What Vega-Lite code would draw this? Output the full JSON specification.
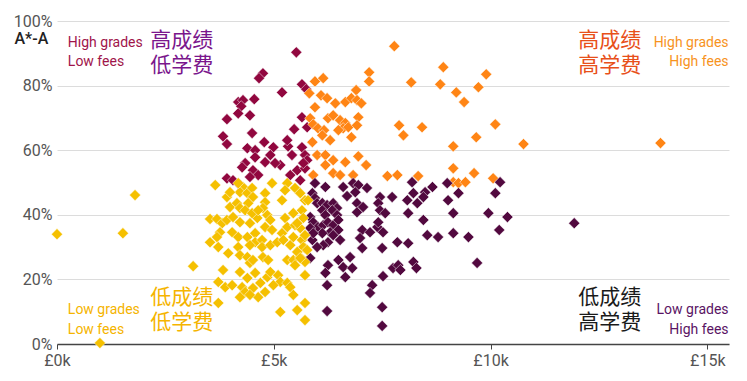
{
  "$schema": "https://vega.github.io/schema/vega-lite/v6.json",
  "width": 672,
  "height": 323,
  "autosize": {"type": "none"},
  "padding": {"left": 57, "top": 21, "right": 18, "bottom": 37},
  "background": "white",
  "config": {"view": {"stroke": null}},
  "datasets": {
    "pts": [
      {"f":5.52,"g":90.3,"grp":"HL"},{"f":4.75,"g":83.8,"grp":"HL"},{"f":4.66,"g":82.3,"grp":"HL"},{"f":5.19,"g":77.9,"grp":"HL"},{"f":5.65,"g":80.4,"grp":"HL"},{"f":5.75,"g":78.9,"grp":"HL"},{"f":4.18,"g":74.9,"grp":"HL"},{"f":4.29,"g":75.5,"grp":"HL"},{"f":4.25,"g":73.6,"grp":"HL"},{"f":4.55,"g":75.8,"grp":"HL"},{"f":4.18,"g":71.4,"grp":"HL"},{"f":4.45,"g":70.8,"grp":"HL"},{"f":3.92,"g":69.6,"grp":"HL"},{"f":3.83,"g":64.3,"grp":"HL"},{"f":3.92,"g":61.9,"grp":"HL"},{"f":4.50,"g":65.3,"grp":"HL"},{"f":4.78,"g":62.5,"grp":"HL"},{"f":4.99,"g":60.9,"grp":"HL"},{"f":5.47,"g":66.5,"grp":"HL"},{"f":5.65,"g":70.2,"grp":"HL"},{"f":5.33,"g":61.2,"grp":"HL"},{"f":5.65,"g":60.9,"grp":"HL"},{"f":4.39,"g":60.6,"grp":"HL"},{"f":4.57,"g":60.0,"grp":"HL"},{"f":4.92,"g":58.5,"grp":"HL"},{"f":5.77,"g":67.1,"grp":"HL"},{"f":5.42,"g":58.5,"grp":"HL"},{"f":5.72,"g":58.5,"grp":"HL"},{"f":5.77,"g":56.9,"grp":"HL"},{"f":4.34,"g":56.0,"grp":"HL"},{"f":4.52,"g":53.8,"grp":"HL"},{"f":4.64,"g":52.3,"grp":"HL"},{"f":4.45,"g":51.7,"grp":"HL"},{"f":3.92,"g":51.3,"grp":"HL"},{"f":4.22,"g":49.2,"grp":"HL"},{"f":5.15,"g":55.4,"grp":"HL"},{"f":5.38,"g":52.3,"grp":"HL"},{"f":5.54,"g":53.8,"grp":"HL"},{"f":5.61,"g":50.7,"grp":"HL"},{"f":4.80,"g":56.3,"grp":"HL"},{"f":4.06,"g":50.7,"grp":"HL"},{"f":5.31,"g":63.1,"grp":"HL"},{"f":5.72,"g":54.4,"grp":"HL"},{"f":5.03,"g":56.0,"grp":"HL"},{"f":4.27,"g":54.7,"grp":"HL"},{"f":4.57,"g":57.8,"grp":"HL"},{"f":5.68,"g":56.0,"grp":"HL"},
      {"f":7.78,"g":92.2,"grp":"HH"},{"f":7.20,"g":84.1,"grp":"HH"},{"f":7.20,"g":81.3,"grp":"HH"},{"f":8.91,"g":85.7,"grp":"HH"},{"f":9.90,"g":83.5,"grp":"HH"},{"f":8.17,"g":81.0,"grp":"HH"},{"f":8.84,"g":80.4,"grp":"HH"},{"f":9.72,"g":79.5,"grp":"HH"},{"f":9.21,"g":77.9,"grp":"HH"},{"f":9.39,"g":74.9,"grp":"HH"},{"f":5.95,"g":81.3,"grp":"HH"},{"f":6.14,"g":82.3,"grp":"HH"},{"f":6.90,"g":78.6,"grp":"HH"},{"f":5.82,"g":77.6,"grp":"HH"},{"f":6.09,"g":77.0,"grp":"HH"},{"f":6.23,"g":76.1,"grp":"HH"},{"f":5.95,"g":73.3,"grp":"HH"},{"f":6.42,"g":74.5,"grp":"HH"},{"f":6.65,"g":74.9,"grp":"HH"},{"f":6.79,"g":76.1,"grp":"HH"},{"f":6.92,"g":75.5,"grp":"HH"},{"f":7.02,"g":74.5,"grp":"HH"},{"f":5.84,"g":69.9,"grp":"HH"},{"f":5.91,"g":68.0,"grp":"HH"},{"f":6.25,"g":69.9,"grp":"HH"},{"f":6.37,"g":70.8,"grp":"HH"},{"f":6.53,"g":69.3,"grp":"HH"},{"f":6.65,"g":68.4,"grp":"HH"},{"f":6.60,"g":66.8,"grp":"HH"},{"f":6.72,"g":67.1,"grp":"HH"},{"f":6.95,"g":70.2,"grp":"HH"},{"f":6.92,"g":67.7,"grp":"HH"},{"f":6.02,"g":66.8,"grp":"HH"},{"f":6.16,"g":66.2,"grp":"HH"},{"f":6.12,"g":64.6,"grp":"HH"},{"f":6.30,"g":63.1,"grp":"HH"},{"f":6.79,"g":64.0,"grp":"HH"},{"f":5.89,"g":62.5,"grp":"HH"},{"f":7.89,"g":67.7,"grp":"HH"},{"f":7.99,"g":64.6,"grp":"HH"},{"f":8.42,"g":67.1,"grp":"HH"},{"f":10.11,"g":68.0,"grp":"HH"},{"f":9.67,"g":64.0,"grp":"HH"},{"f":9.14,"g":61.2,"grp":"HH"},{"f":10.76,"g":61.9,"grp":"HH"},{"f":13.92,"g":62.2,"grp":"HH"},{"f":6.00,"g":58.5,"grp":"HH"},{"f":6.19,"g":58.5,"grp":"HH"},{"f":6.37,"g":56.9,"grp":"HH"},{"f":6.19,"g":55.4,"grp":"HH"},{"f":6.65,"g":56.3,"grp":"HH"},{"f":6.95,"g":58.1,"grp":"HH"},{"f":7.13,"g":55.4,"grp":"HH"},{"f":5.91,"g":52.3,"grp":"HH"},{"f":6.37,"g":52.9,"grp":"HH"},{"f":6.53,"g":52.3,"grp":"HH"},{"f":6.83,"g":52.3,"grp":"HH"},{"f":7.62,"g":52.0,"grp":"HH"},{"f":7.85,"g":52.3,"grp":"HH"},{"f":8.33,"g":52.0,"grp":"HH"},{"f":9.14,"g":54.4,"grp":"HH"},{"f":9.14,"g":50.1,"grp":"HH"},{"f":9.26,"g":49.8,"grp":"HH"},{"f":9.42,"g":50.1,"grp":"HH"},{"f":9.62,"g":52.9,"grp":"HH"},{"f":10.06,"g":51.3,"grp":"HH"},{"f":6.49,"g":66.2,"grp":"HH"},
      {"f":5.95,"g":49.8,"grp":"LH"},{"f":6.19,"g":48.6,"grp":"LH"},{"f":6.60,"g":48.6,"grp":"LH"},{"f":6.83,"g":49.8,"grp":"LH"},{"f":6.95,"g":49.2,"grp":"LH"},{"f":6.88,"g":47.0,"grp":"LH"},{"f":5.89,"g":46.7,"grp":"LH"},{"f":5.95,"g":45.2,"grp":"LH"},{"f":6.00,"g":43.6,"grp":"LH"},{"f":6.12,"g":43.6,"grp":"LH"},{"f":6.23,"g":43.0,"grp":"LH"},{"f":6.37,"g":43.6,"grp":"LH"},{"f":6.46,"g":42.1,"grp":"LH"},{"f":6.35,"g":41.4,"grp":"LH"},{"f":6.12,"g":41.4,"grp":"LH"},{"f":6.19,"g":39.9,"grp":"LH"},{"f":6.46,"g":39.9,"grp":"LH"},{"f":5.84,"g":39.3,"grp":"LH"},{"f":5.91,"g":37.7,"grp":"LH"},{"f":6.02,"g":36.2,"grp":"LH"},{"f":5.84,"g":35.9,"grp":"LH"},{"f":6.14,"g":36.8,"grp":"LH"},{"f":6.25,"g":37.7,"grp":"LH"},{"f":6.37,"g":36.8,"grp":"LH"},{"f":6.49,"g":38.4,"grp":"LH"},{"f":6.49,"g":35.3,"grp":"LH"},{"f":6.30,"g":34.6,"grp":"LH"},{"f":6.12,"g":34.3,"grp":"LH"},{"f":6.37,"g":33.7,"grp":"LH"},{"f":6.53,"g":32.2,"grp":"LH"},{"f":6.25,"g":31.5,"grp":"LH"},{"f":6.14,"g":30.6,"grp":"LH"},{"f":6.00,"g":30.0,"grp":"LH"},{"f":5.89,"g":32.2,"grp":"LH"},{"f":5.91,"g":34.3,"grp":"LH"},{"f":6.92,"g":43.6,"grp":"LH"},{"f":6.92,"g":40.8,"grp":"LH"},{"f":7.06,"g":42.4,"grp":"LH"},{"f":7.45,"g":45.5,"grp":"LH"},{"f":7.41,"g":43.6,"grp":"LH"},{"f":7.45,"g":41.4,"grp":"LH"},{"f":7.57,"g":40.5,"grp":"LH"},{"f":7.73,"g":45.5,"grp":"LH"},{"f":8.19,"g":50.1,"grp":"LH"},{"f":8.08,"g":44.5,"grp":"LH"},{"f":8.22,"g":46.7,"grp":"LH"},{"f":8.31,"g":43.6,"grp":"LH"},{"f":8.10,"g":40.5,"grp":"LH"},{"f":8.49,"g":47.0,"grp":"LH"},{"f":8.66,"g":48.6,"grp":"LH"},{"f":8.45,"g":45.5,"grp":"LH"},{"f":9.00,"g":49.8,"grp":"LH"},{"f":9.02,"g":44.5,"grp":"LH"},{"f":9.26,"g":46.7,"grp":"LH"},{"f":9.14,"g":40.5,"grp":"LH"},{"f":9.95,"g":40.5,"grp":"LH"},{"f":10.39,"g":39.3,"grp":"LH"},{"f":10.11,"g":46.7,"grp":"LH"},{"f":10.22,"g":50.1,"grp":"LH"},{"f":10.20,"g":35.3,"grp":"LH"},{"f":8.45,"g":38.4,"grp":"LH"},{"f":7.04,"g":35.3,"grp":"LH"},{"f":6.99,"g":32.8,"grp":"LH"},{"f":7.22,"g":34.6,"grp":"LH"},{"f":7.39,"g":36.2,"grp":"LH"},{"f":7.52,"g":34.6,"grp":"LH"},{"f":7.41,"g":37.7,"grp":"LH"},{"f":7.04,"g":29.7,"grp":"LH"},{"f":7.50,"g":29.7,"grp":"LH"},{"f":7.85,"g":31.5,"grp":"LH"},{"f":8.10,"g":31.2,"grp":"LH"},{"f":8.54,"g":33.7,"grp":"LH"},{"f":8.79,"g":33.1,"grp":"LH"},{"f":9.14,"g":34.3,"grp":"LH"},{"f":9.49,"g":33.1,"grp":"LH"},{"f":9.69,"g":25.1,"grp":"LH"},{"f":6.76,"g":26.9,"grp":"LH"},{"f":6.60,"g":23.8,"grp":"LH"},{"f":6.81,"g":23.5,"grp":"LH"},{"f":6.65,"g":20.7,"grp":"LH"},{"f":6.49,"g":26.0,"grp":"LH"},{"f":6.25,"g":24.4,"grp":"LH"},{"f":6.19,"g":22.0,"grp":"LH"},{"f":7.75,"g":23.5,"grp":"LH"},{"f":7.87,"g":24.4,"grp":"LH"},{"f":7.92,"g":22.9,"grp":"LH"},{"f":8.22,"g":25.4,"grp":"LH"},{"f":8.29,"g":23.5,"grp":"LH"},{"f":7.52,"g":21.0,"grp":"LH"},{"f":7.27,"g":18.2,"grp":"LH"},{"f":7.22,"g":15.8,"grp":"LH"},{"f":6.23,"g":18.2,"grp":"LH"},{"f":7.50,"g":11.4,"grp":"LH"},{"f":6.23,"g":10.2,"grp":"LH"},{"f":7.50,"g":5.6,"grp":"LH"},{"f":11.93,"g":37.4,"grp":"LH"},{"f":6.69,"g":45.8,"grp":"LH"},{"f":7.15,"g":48.3,"grp":"LH"},{"f":5.84,"g":26.6,"grp":"LH"},
      {"f":0.00,"g":34.0,"grp":"LL"},{"f":0.99,"g":0.3,"grp":"LL"},{"f":1.52,"g":34.3,"grp":"LL"},{"f":1.80,"g":46.1,"grp":"LL"},{"f":3.14,"g":24.1,"grp":"LL"},{"f":4.96,"g":49.8,"grp":"LL"},{"f":3.65,"g":49.2,"grp":"LL"},{"f":3.92,"g":45.5,"grp":"LL"},{"f":4.29,"g":48.6,"grp":"LL"},{"f":4.22,"g":47.0,"grp":"LL"},{"f":4.39,"g":46.7,"grp":"LL"},{"f":4.50,"g":48.3,"grp":"LL"},{"f":4.52,"g":45.5,"grp":"LL"},{"f":4.80,"g":46.7,"grp":"LL"},{"f":4.80,"g":43.9,"grp":"LL"},{"f":4.75,"g":42.1,"grp":"LL"},{"f":5.19,"g":44.5,"grp":"LL"},{"f":5.31,"g":49.8,"grp":"LL"},{"f":5.26,"g":47.6,"grp":"LL"},{"f":5.49,"g":48.3,"grp":"LL"},{"f":5.61,"g":46.7,"grp":"LL"},{"f":5.72,"g":44.5,"grp":"LL"},{"f":3.99,"g":42.4,"grp":"LL"},{"f":4.15,"g":43.6,"grp":"LL"},{"f":4.22,"g":42.1,"grp":"LL"},{"f":4.41,"g":43.6,"grp":"LL"},{"f":4.34,"g":41.4,"grp":"LL"},{"f":3.53,"g":38.7,"grp":"LL"},{"f":3.69,"g":38.7,"grp":"LL"},{"f":3.81,"g":37.4,"grp":"LL"},{"f":3.92,"g":38.4,"grp":"LL"},{"f":3.76,"g":34.6,"grp":"LL"},{"f":3.69,"g":33.1,"grp":"LL"},{"f":4.06,"g":39.3,"grp":"LL"},{"f":4.22,"g":37.7,"grp":"LL"},{"f":4.45,"g":37.4,"grp":"LL"},{"f":4.62,"g":39.0,"grp":"LL"},{"f":4.50,"g":40.5,"grp":"LL"},{"f":4.64,"g":41.4,"grp":"LL"},{"f":4.85,"g":39.9,"grp":"LL"},{"f":4.92,"g":38.4,"grp":"LL"},{"f":4.80,"g":36.2,"grp":"LL"},{"f":4.96,"g":35.3,"grp":"LL"},{"f":5.26,"g":39.0,"grp":"LL"},{"f":5.31,"g":36.2,"grp":"LL"},{"f":5.19,"g":34.3,"grp":"LL"},{"f":5.45,"g":40.5,"grp":"LL"},{"f":5.49,"g":36.8,"grp":"LL"},{"f":5.61,"g":35.9,"grp":"LL"},{"f":4.04,"g":34.6,"grp":"LL"},{"f":4.18,"g":33.1,"grp":"LL"},{"f":4.39,"g":33.1,"grp":"LL"},{"f":4.57,"g":34.3,"grp":"LL"},{"f":4.57,"g":31.5,"grp":"LL"},{"f":4.45,"g":30.6,"grp":"LL"},{"f":4.73,"g":32.2,"grp":"LL"},{"f":4.73,"g":30.0,"grp":"LL"},{"f":4.92,"g":30.6,"grp":"LL"},{"f":5.08,"g":31.5,"grp":"LL"},{"f":3.53,"g":31.5,"grp":"LL"},{"f":3.72,"g":30.0,"grp":"LL"},{"f":3.95,"g":28.1,"grp":"LL"},{"f":4.18,"g":30.0,"grp":"LL"},{"f":4.22,"g":27.5,"grp":"LL"},{"f":5.22,"g":32.2,"grp":"LL"},{"f":5.38,"g":30.6,"grp":"LL"},{"f":5.45,"g":33.1,"grp":"LL"},{"f":5.65,"g":32.2,"grp":"LL"},{"f":5.72,"g":29.7,"grp":"LL"},{"f":4.39,"g":26.9,"grp":"LL"},{"f":4.45,"g":25.1,"grp":"LL"},{"f":4.52,"g":26.0,"grp":"LL"},{"f":4.75,"g":26.9,"grp":"LL"},{"f":4.87,"g":26.0,"grp":"LL"},{"f":5.31,"g":26.0,"grp":"LL"},{"f":5.45,"g":26.0,"grp":"LL"},{"f":5.61,"g":26.9,"grp":"LL"},{"f":5.72,"g":25.4,"grp":"LL"},{"f":3.83,"g":22.9,"grp":"LL"},{"f":4.22,"g":22.3,"grp":"LL"},{"f":4.39,"g":20.4,"grp":"LL"},{"f":4.57,"g":22.0,"grp":"LL"},{"f":3.72,"g":19.2,"grp":"LL"},{"f":3.88,"g":17.6,"grp":"LL"},{"f":4.04,"g":18.2,"grp":"LL"},{"f":4.27,"g":17.6,"grp":"LL"},{"f":4.34,"g":16.1,"grp":"LL"},{"f":4.52,"g":17.3,"grp":"LL"},{"f":4.69,"g":18.9,"grp":"LL"},{"f":4.85,"g":20.7,"grp":"LL"},{"f":4.92,"g":22.3,"grp":"LL"},{"f":5.10,"g":21.3,"grp":"LL"},{"f":5.15,"g":19.2,"grp":"LL"},{"f":4.99,"g":18.2,"grp":"LL"},{"f":4.80,"g":16.1,"grp":"LL"},{"f":4.64,"g":14.5,"grp":"LL"},{"f":4.45,"g":15.2,"grp":"LL"},{"f":4.22,"g":14.5,"grp":"LL"},{"f":5.31,"g":18.9,"grp":"LL"},{"f":5.38,"g":17.6,"grp":"LL"},{"f":5.45,"g":15.2,"grp":"LL"},{"f":5.72,"g":12.7,"grp":"LL"},{"f":5.54,"g":10.5,"grp":"LL"},{"f":3.72,"g":12.7,"grp":"LL"},{"f":5.15,"g":9.9,"grp":"LL"},{"f":5.72,"g":7.4,"grp":"LL"},{"f":5.79,"g":44.5,"grp":"LL"},{"f":5.65,"g":41.4,"grp":"LL"},{"f":5.68,"g":39.0,"grp":"LL"},{"f":5.54,"g":37.4,"grp":"LL"},{"f":5.72,"g":33.7,"grp":"LL"},{"f":5.68,"g":30.0,"grp":"LL"},{"f":5.77,"g":29.1,"grp":"LL"},{"f":5.54,"g":28.5,"grp":"LL"},{"f":5.61,"g":26.6,"grp":"LL"},{"f":5.49,"g":24.4,"grp":"LL"},{"f":5.72,"g":21.3,"grp":"LL"},{"f":3.99,"g":47.0,"grp":"LL"},{"f":4.18,"g":49.8,"grp":"LL"}
    ]
  },
  "encoding": {
    "x": {
      "field": "f", "type": "quantitative",
      "scale": {"domain": [0, 15.5], "nice": false, "zero": true},
      "axis": {
        "title": null, "values": [0, 5, 10, 15],
        "labelExpr": "'£' + datum.value + 'k'",
        "grid": false, "domain": true, "domainColor": "#444", "domainWidth": 1.5,
        "ticks": true, "tickColor": "#444", "tickSize": 5, "tickWidth": 1,
        "labelPadding": 3, "labelFlush": false,
        "labelFont": "Roboto", "labelFontSize": 16, "labelColor": "#555"
      }
    },
    "y": {
      "field": "g", "type": "quantitative",
      "scale": {"domain": [0, 100], "nice": false},
      "axis": {
        "values": [0, 20, 40, 60, 80, 100],
        "labelExpr": "datum.value + '%'",
        "grid": true, "gridColor": "#dcdcdc", "gridWidth": 1,
        "domain": false, "ticks": false, "labelPadding": 5,
        "labelFont": "Roboto", "labelFontSize": 16, "labelColor": "#555",
        "title": "A*-A", "titleAngle": 0, "titleAlign": "left", "titleBaseline": "middle",
        "titleX": -43, "titleY": 17,
        "titleFont": "Roboto", "titleFontSize": 16, "titleFontWeight": 500, "titleColor": "#222"
      }
    }
  },
  "layer": [
    {
      "data": {"name": "pts"},
      "mark": {"type": "point", "shape": "diamond", "filled": true, "size": 125, "opacity": 1, "stroke": "white", "strokeWidth": 0.5},
      "encoding": {
        "color": {
          "field": "grp", "type": "nominal", "legend": null,
          "scale": {"domain": ["HL", "HH", "LH", "LL"], "range": ["#91073f", "#ff8515", "#52093f", "#f5c000"]}
        }
      }
    },
    {
      "data": {"values": [{"t": ["High grades", "Low fees"], "f": 0.25, "g": 91.9}]},
      "mark": {"type": "text", "align": "left", "baseline": "alphabetic", "font": "Roboto", "fontSize": 14, "lineHeight": 19, "color": "#a0144a"},
      "encoding": {"text": {"field": "t"}}
    },
    {
      "data": {"values": [{"t": ["高成绩", "低学费"], "f": 2.15, "g": 91.9}]},
      "mark": {"type": "text", "align": "left", "baseline": "alphabetic", "font": "Noto Sans CJK SC", "fontSize": 21, "lineHeight": 25, "color": "#7a168c"},
      "encoding": {"text": {"field": "t"}}
    },
    {
      "data": {"values": [{"t": ["高成绩", "高学费"], "f": 12.02, "g": 91.9}]},
      "mark": {"type": "text", "align": "left", "baseline": "alphabetic", "font": "Noto Sans CJK SC", "fontSize": 21, "lineHeight": 25, "color": "#e8501a"},
      "encoding": {"text": {"field": "t"}}
    },
    {
      "data": {"values": [{"t": ["High grades", "High fees"], "f": 15.49, "g": 91.9}]},
      "mark": {"type": "text", "align": "right", "baseline": "alphabetic", "font": "Roboto", "fontSize": 14, "lineHeight": 19, "color": "#f7931e"},
      "encoding": {"text": {"field": "t"}}
    },
    {
      "data": {"values": [{"t": ["低成绩", "低学费"], "f": 2.15, "g": 12.4}]},
      "mark": {"type": "text", "align": "left", "baseline": "alphabetic", "font": "Noto Sans CJK SC", "fontSize": 21, "lineHeight": 25, "color": "#f5b400"},
      "encoding": {"text": {"field": "t"}}
    },
    {
      "data": {"values": [{"t": ["Low grades", "Low fees"], "f": 0.25, "g": 9.4}]},
      "mark": {"type": "text", "align": "left", "baseline": "alphabetic", "font": "Roboto", "fontSize": 14, "lineHeight": 20, "color": "#f5b400"},
      "encoding": {"text": {"field": "t"}}
    },
    {
      "data": {"values": [{"t": ["低成绩", "高学费"], "f": 12.02, "g": 12.4}]},
      "mark": {"type": "text", "align": "left", "baseline": "alphabetic", "font": "Noto Sans CJK SC", "fontSize": 21, "lineHeight": 25, "color": "#1a1a1a"},
      "encoding": {"text": {"field": "t"}}
    },
    {
      "data": {"values": [{"t": ["Low grades", "High fees"], "f": 15.49, "g": 9.4}]},
      "mark": {"type": "text", "align": "right", "baseline": "alphabetic", "font": "Roboto", "fontSize": 14, "lineHeight": 20, "color": "#5a1464"},
      "encoding": {"text": {"field": "t"}}
    }
  ]
}
